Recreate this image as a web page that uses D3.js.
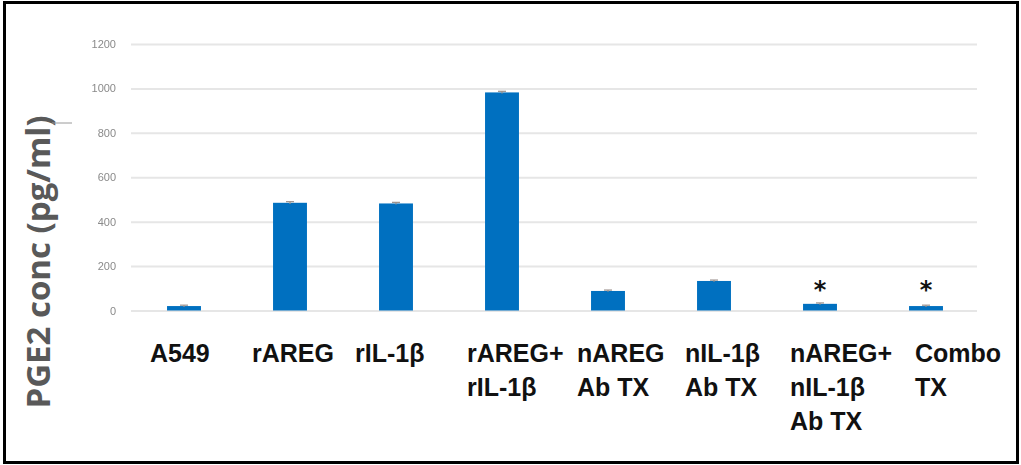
<!DOCTYPE html>
<html>
<head>
<meta charset="utf-8">
<script src="https://cdn.jsdelivr.net/npm/d3@7"></script>
<style>
  html, body { margin: 0; padding: 0; background: #fff; }
  svg { display: block; }
</style>
</head>
<body>
<svg id="chart" width="1021" height="465"></svg>
<script>
// PGE2 concentration per treatment group
const categories = ["A549", "rAREG", "rIL-1β", "rAREG+rIL-1β", "nAREG Ab TX", "nIL-1β Ab TX", "nAREG+nIL-1β Ab TX", "Combo TX"];
const labelLines = [
  ["A549"],
  ["rAREG"],
  ["rIL-1β"],
  ["rAREG+", "rIL-1β"],
  ["nAREG", "Ab TX"],
  ["nIL-1β", "Ab TX"],
  ["nAREG+", "nIL-1β", "Ab TX"],
  ["Combo", "TX"]
];
const values = [20, 485, 482, 982, 88, 133, 30, 20];
const errors = [4, 5, 5, 5, 4, 4, 4, 4];
const significant = [false, false, false, false, false, false, true, true];
const yTicks = [0, 200, 400, 600, 800, 1000, 1200];
const yTitle = "PGE2 conc (pg/ml)";

// layout
const labelDx = [-34, -38, -41, -35, -31, -29, -30, -11];
const plot = { left: 131, right: 979, top: 44, bottom: 310.5 };

const svg = d3.select("#chart");

const x = d3.scaleBand()
  .domain(categories)
  .range([plot.left, plot.right])
  .paddingInner(0.68)
  .paddingOuter(0.34);

const y = d3.scaleLinear()
  .domain([0, 1200])
  .range([plot.bottom, plot.top]);

// frame
svg.append("rect")
  .attr("x", 4.5).attr("y", 2.5)
  .attr("width", 1013).attr("height", 460)
  .attr("fill", "none")
  .attr("stroke", "#000")
  .attr("stroke-width", 3);

// gridlines + tick labels
const yAxis = d3.axisLeft(y)
  .tickValues(yTicks)
  .tickSize(-(977 - plot.left))
  .tickPadding(15)
  .tickFormat(d3.format("d"));

const gy = svg.append("g")
  .attr("transform", `translate(${plot.left},0)`)
  .call(yAxis);
gy.select(".domain").remove();
gy.selectAll(".tick line")
  .attr("stroke", "#e6e6e6")
  .attr("stroke-width", 2);
gy.selectAll(".tick text")
  .attr("fill", "#8a8a8a")
  .attr("font-family", "'Liberation Sans', Arial, sans-serif")
  .attr("font-size", 11)
  .style("filter", "blur(0.5px)");

// bars
svg.append("g").selectAll("rect")
  .data(categories)
  .join("rect")
  .attr("x", d => x(d))
  .attr("width", x.bandwidth())
  .attr("y", (d, i) => y(values[i]))
  .attr("height", (d, i) => y(0) - y(values[i]))
  .attr("fill", "#0070c0");

// error bars
const eb = svg.append("g")
  .attr("stroke", "#9a8f8a")
  .attr("stroke-width", 1.2);
categories.forEach((c, i) => {
  const cx = x(c) + x.bandwidth() / 2;
  const hi = y(values[i] + errors[i]);
  const lo = y(values[i] - errors[i]);
  eb.append("line").attr("x1", cx).attr("x2", cx).attr("y1", hi).attr("y2", lo);
  eb.append("line").attr("x1", cx - 4).attr("x2", cx + 4).attr("y1", hi).attr("y2", hi);
});

// significance markers
svg.append("g").selectAll("text")
  .data(categories.filter((c, i) => significant[i]))
  .join("text")
  .attr("x", d => x(d) + x.bandwidth() / 2)
  .attr("y", y(0) - 13)
  .attr("text-anchor", "middle")
  .attr("font-family", "'DejaVu Sans', sans-serif")
  .attr("font-weight", "bold")
  .attr("font-size", 24)
  .attr("fill", "#111")
  .text("*");

// category labels
const lab = svg.append("g")
  .attr("font-family", "'Liberation Sans', Arial, sans-serif")
  .attr("font-weight", "bold")
  .attr("font-size", 25)
  .attr("fill", "#111");
categories.forEach((c, i) => {
  const x0 = x(c) + x.bandwidth() / 2 + labelDx[i];
  const t = lab.append("text").attr("x", x0).attr("y", 362);
  labelLines[i].forEach((line, k) => {
    t.append("tspan")
      .attr("x", x0)
      .attr("dy", k === 0 ? 0 : 34)
      .text(line);
  });
});

// y axis title
svg.append("text")
  .attr("transform", "translate(50,262) rotate(-90)")
  .attr("text-anchor", "middle")
  .attr("font-family", "'Open Sans', sans-serif")
  .attr("font-weight", "bold")
  .attr("font-size", 33)
  .attr("fill", "#595959")
  .text(yTitle);

// small stroke trailing the title
svg.append("line")
  .attr("x1", 52).attr("x2", 72)
  .attr("y1", 123).attr("y2", 123)
  .attr("stroke", "#9a9a9a")
  .attr("stroke-width", 1);
</script>
</body>
</html>
